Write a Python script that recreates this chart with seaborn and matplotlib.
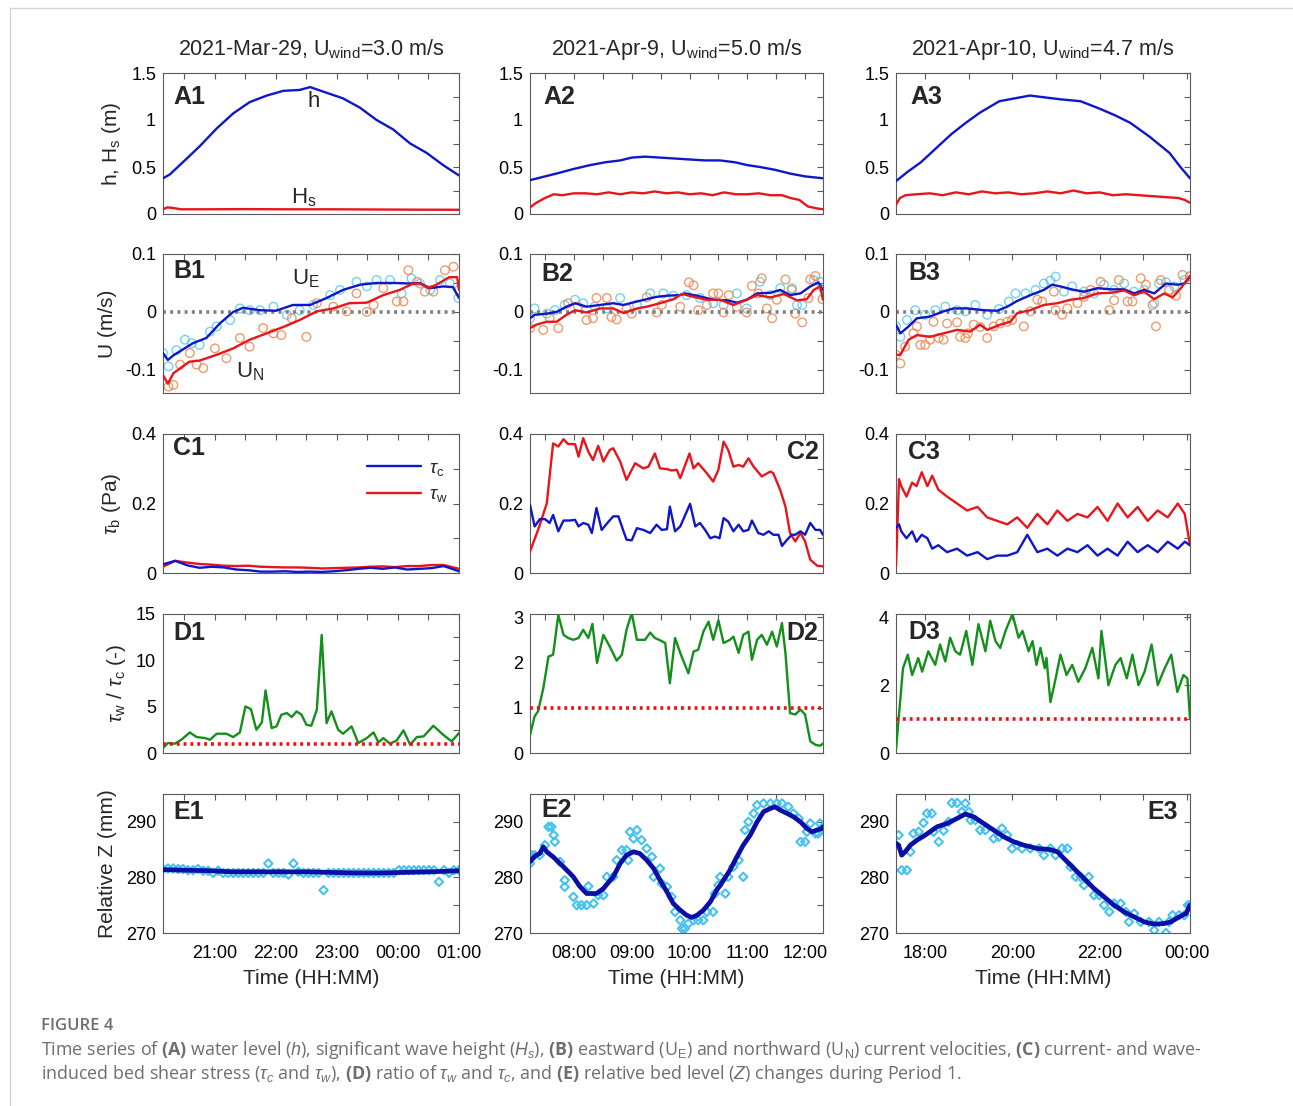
import numpy as np
import pandas as pd
import matplotlib
matplotlib.use("Agg")
import matplotlib.pyplot as plt
import seaborn as sns
from matplotlib.ticker import MultipleLocator, FixedLocator, FuncFormatter
from matplotlib.lines import Line2D

sns.set_theme(style="white")
plt.rcParams['font.family'] = ['Liberation Sans', 'DejaVu Sans']
plt.rcParams['mathtext.fontset'] = 'custom'
plt.rcParams['mathtext.rm'] = 'Liberation Sans'
plt.rcParams['mathtext.it'] = 'Liberation Sans:italic'
plt.rcParams['mathtext.bf'] = 'Open Sans:bold'

# ---------------------------------------------------------------- data
titles = ["2021-Mar-29, U$_{\\mathrm{wind}}$=3.0 m/s",
          "2021-Apr-9, U$_{\\mathrm{wind}}$=5.0 m/s",
          "2021-Apr-10, U$_{\\mathrm{wind}}$=4.7 m/s"]

# ---- A: water level h and wave height Hs
a1_t = [20.15, 20.26, 20.54, 20.75, 21.03, 21.3, 21.57, 21.85, 22.12, 22.39, 22.56,
        22.83, 23.1, 23.38, 23.65, 23.92, 24.2, 24.47, 24.74, 25.0]
a1_h = [0.38, 0.42, 0.59, 0.72, 0.91, 1.07, 1.19, 1.26, 1.31, 1.32, 1.35,
        1.29, 1.23, 1.13, 1.0, 0.9, 0.75, 0.65, 0.52, 0.41]
a1_hs_t = [20.15, 20.22, 20.3, 20.45, 20.8, 21.5, 22.2, 22.9, 23.6, 24.3, 25.0]
a1_hs = [0.05, 0.07, 0.065, 0.05, 0.05, 0.052, 0.05, 0.05, 0.048, 0.046, 0.045]

a2_t = [7.24, 7.5, 7.76, 8.0, 8.28, 8.54, 8.8, 9.0, 9.23, 9.49, 9.75, 10.0, 10.27,
        10.53, 10.79, 11.0, 11.22, 11.48, 11.74, 12.0, 12.31]
a2_h = [0.36, 0.4, 0.44, 0.48, 0.52, 0.55, 0.57, 0.6, 0.61, 0.6, 0.59, 0.58, 0.57,
        0.57, 0.55, 0.52, 0.5, 0.47, 0.43, 0.4, 0.38]
a2_hs_t = [7.24, 7.35, 7.5, 7.65, 7.8, 8.0, 8.2, 8.4, 8.6, 8.8, 9.0, 9.2, 9.4, 9.6, 9.8,
           10.0, 10.2, 10.4, 10.6, 10.8, 11.0, 11.2, 11.4, 11.6, 11.75, 11.9, 12.05, 12.2, 12.31]
a2_hs = [0.07, 0.12, 0.17, 0.21, 0.2, 0.22, 0.22, 0.21, 0.23, 0.21, 0.23, 0.22, 0.24, 0.22, 0.23,
         0.21, 0.22, 0.2, 0.23, 0.21, 0.21, 0.22, 0.2, 0.2, 0.17, 0.15, 0.08, 0.06, 0.05]

a3_t = [17.33, 17.6, 17.9, 18.25, 18.6, 18.93, 19.26, 19.7, 20.05, 20.4, 20.75, 21.1,
        21.56, 22.0, 22.35, 22.7, 23.15, 23.6, 23.85, 24.07]
a3_h = [0.35, 0.45, 0.55, 0.7, 0.85, 0.97, 1.08, 1.2, 1.23, 1.26, 1.24, 1.22,
        1.2, 1.12, 1.05, 0.97, 0.82, 0.65, 0.5, 0.38]
a3_hs_t = [17.33, 17.42, 17.55, 17.8, 18.1, 18.4, 18.7, 19.0, 19.3, 19.6, 19.9, 20.2,
           20.5, 20.8, 21.1, 21.4, 21.7, 22.0, 22.3, 22.6, 22.9, 23.2, 23.5, 23.8, 23.95, 24.07]
a3_hs = [0.1, 0.17, 0.2, 0.21, 0.22, 0.2, 0.23, 0.21, 0.24, 0.22, 0.23, 0.21, 0.22,
         0.24, 0.22, 0.25, 0.22, 0.23, 0.2, 0.21, 0.2, 0.19, 0.18, 0.17, 0.15, 0.12]

# ---- B: current velocities (smoothed lines + raw points)
b1_t = [20.15, 20.23, 20.32, 20.64, 20.86, 21.08, 21.3, 21.46, 21.74, 22.0, 22.28, 22.56,
        22.83, 23.1, 23.38, 23.65, 23.92, 24.2, 24.36, 24.52, 24.74, 24.9, 25.0]
b1_ue = [-0.071, -0.083, -0.075, -0.054, -0.045, -0.02, 0.0, 0.007, 0.003, 0.002, 0.012, 0.012,
         0.024, 0.038, 0.047, 0.05, 0.05, 0.049, 0.05, 0.041, 0.044, 0.043, 0.024]
b1_un_t = [20.15, 20.23, 20.32, 20.58, 20.75, 21.03, 21.3, 21.57, 21.85, 22.12, 22.39, 22.67,
           22.94, 23.2, 23.49, 23.76, 24.03, 24.25, 24.36, 24.5, 24.63, 24.84, 24.97, 25.0]
b1_un = [-0.109, -0.124, -0.106, -0.086, -0.084, -0.074, -0.063, -0.048, -0.037, -0.026, -0.014, 0.001,
         0.006, 0.015, 0.016, 0.029, 0.038, 0.049, 0.049, 0.041, 0.047, 0.06, 0.06, 0.038]
b1_raw_n_t = [20.24, 20.32, 20.43, 20.59, 20.70, 20.81, 21.0, 21.19, 21.41, 21.57, 21.79, 21.96, 22.09,
              22.26, 22.5, 22.67, 22.94, 23.16, 23.32, 23.49, 23.6, 23.76, 23.98, 24.09, 24.17, 24.31,
              24.44, 24.58, 24.77, 24.91, 25.0]
b1_raw_n = [-0.129, -0.126, -0.091, -0.071, -0.091, -0.097, -0.063, -0.08, -0.045, -0.06, -0.028, -0.037,
            -0.04, -0.011, -0.043, 0.015, 0.009, 0.001, 0.032, 0.0, 0.012, 0.041, 0.018, 0.018, 0.072,
            0.052, 0.035, 0.035, 0.072, 0.078, 0.038]
b1_raw_e_t = [20.15, 20.24, 20.37, 20.51, 20.62, 20.75, 20.92, 21.03, 21.25, 21.41, 21.57, 21.74, 21.96,
              22.18, 22.39, 22.61, 22.89, 23.05, 23.32, 23.49, 23.65, 23.87, 24.06, 24.22, 24.36,
              24.53, 24.69, 24.85, 24.99]
b1_raw_e = [-0.071, -0.094, -0.066, -0.048, -0.054, -0.057, -0.034, -0.025, -0.014, 0.006, 0.003, 0.003,
            0.009, -0.005, 0.003, 0.012, 0.029, 0.038, 0.052, 0.044, 0.055, 0.055, 0.032, 0.058, 0.049,
            0.038, 0.055, 0.049, 0.024]

b2_t = [7.24, 7.32, 7.53, 7.70, 7.87, 8.02, 8.22, 8.45, 8.68, 8.86, 9.09, 9.26, 9.43, 9.61, 9.84,
        9.92, 10.13, 10.42, 10.65, 10.82, 10.99, 11.17, 11.40, 11.57, 11.74, 11.92, 12.09, 12.23, 12.31]
b2_ue = [-0.011, -0.005, -0.003, 0.0, 0.009, 0.015, 0.009, 0.012, 0.015, 0.012, 0.018, 0.022, 0.026,
         0.028, 0.029, 0.032, 0.028, 0.021, 0.020, 0.016, 0.021, 0.032, 0.033, 0.038, 0.029, 0.032,
         0.044, 0.051, 0.038]
b2_un_t = [7.24, 7.35, 7.53, 7.70, 7.87, 8.02, 8.22, 8.45, 8.68, 8.86, 9.09, 9.26, 9.49, 9.72, 9.87,
           10.07, 10.30, 10.53, 10.76, 10.99, 11.17, 11.40, 11.63, 11.86, 12.03, 12.15, 12.26, 12.31]
b2_un = [-0.028, -0.022, -0.017, -0.017, -0.005, 0.003, -0.001, 0.006, 0.006, -0.002, 0.006, 0.009,
         0.015, 0.022, 0.031, 0.026, 0.021, 0.021, 0.012, 0.021, 0.029, 0.025, 0.031, 0.020, 0.022,
         0.038, 0.044, 0.021]
b2_raw_n_t = [7.24, 7.47, 7.58, 7.73, 7.9, 8.07, 8.22, 8.33, 8.39, 8.57, 8.65, 8.74, 8.91, 9.0, 9.26,
              9.43, 9.52, 9.84, 9.99, 10.07, 10.15, 10.30, 10.41, 10.5, 10.59, 10.68, 10.82, 10.99,
              11.08, 11.19, 11.25, 11.34, 11.43, 11.51, 11.66, 11.77, 11.83, 11.95, 12.06, 12.09,
              12.18, 12.3]
b2_raw_n = [-0.028, -0.031, -0.011, -0.028, 0.015, 0.009, -0.014, -0.011, 0.024, 0.024, -0.009, -0.013,
            0.006, -0.003, 0.025, -0.001, 0.012, 0.009, 0.051, 0.046, 0.003, 0.012, 0.032, 0.032,
            -0.001, 0.029, 0.009, -0.001, 0.045, 0.032, 0.058, 0.006, -0.011, 0.021, 0.056, 0.038,
            -0.003, -0.018, 0.024, 0.056, 0.062, 0.022]
b2_raw_e_t = [7.24, 7.32, 7.53, 7.67, 7.84, 8.02, 8.16, 8.36, 8.57, 8.8, 9.09, 9.32, 9.55, 9.72, 9.95,
              10.18, 10.41, 10.59, 10.82, 10.99, 11.22, 11.4, 11.57, 11.77, 11.86, 11.95, 12.15, 12.26,
              12.31]
b2_raw_e = [-0.011, 0.006, -0.003, 0.003, 0.012, 0.021, 0.015, 0.009, 0.006, 0.024, 0.012, 0.032, 0.032,
            0.028, 0.029, 0.024, 0.015, 0.012, 0.032, 0.006, 0.052, 0.029, 0.041, 0.041, 0.012, 0.012,
            0.055, 0.052, 0.041]

b3_t = [17.33, 17.43, 17.62, 17.81, 18.11, 18.42, 18.65, 18.96, 19.34, 19.65, 19.88, 20.11, 20.41,
        20.72, 20.91, 21.1, 21.41, 21.64, 21.95, 22.25, 22.56, 22.79, 23.02, 23.25, 23.52, 23.79,
        23.94, 24.07]
b3_ue = [-0.022, -0.037, -0.025, -0.011, -0.008, 0.001, 0.006, 0.006, 0.003, 0.002, 0.009, 0.019,
         0.029, 0.038, 0.047, 0.044, 0.038, 0.035, 0.041, 0.039, 0.039, 0.032, 0.038, 0.032, 0.049,
         0.047, 0.049, 0.061]
b3_un_t = [17.33, 17.43, 17.62, 17.81, 18.11, 18.42, 18.73, 19.03, 19.26, 19.42, 19.72, 19.95, 20.11,
           20.41, 20.72, 21.03, 21.33, 21.64, 21.95, 22.25, 22.56, 22.79, 23.02, 23.25, 23.48, 23.67,
           23.86, 24.07]
b3_un = [-0.074, -0.074, -0.048, -0.040, -0.043, -0.037, -0.031, -0.034, -0.022, -0.031, -0.022, -0.017,
         -0.002, 0.003, 0.012, 0.015, 0.021, 0.024, 0.032, 0.033, 0.037, 0.029, 0.035, 0.022, 0.032,
         0.025, 0.041, 0.062]
b3_raw_n_t = [17.33, 17.43, 17.54, 17.73, 17.81, 17.89, 18.0, 18.11, 18.19, 18.31, 18.42, 18.5, 18.73,
              18.8, 18.92, 18.98, 19.11, 19.26, 19.42, 19.57, 19.72, 19.88, 19.99, 20.26, 20.41, 20.57,
              20.68, 20.95, 20.99, 21.14, 21.26, 21.49, 21.64, 21.79, 22.02, 22.22, 22.33, 22.44, 22.64,
              22.75, 22.94, 23.06, 23.21, 23.29, 23.4, 23.59, 23.75, 23.9, 24.07]
b3_raw_n = [-0.074, -0.089, -0.06, -0.037, -0.025, -0.057, -0.057, -0.048, -0.017, -0.045, -0.048, -0.02,
            -0.018, -0.043, -0.045, -0.037, -0.022, -0.026, -0.045, -0.025, -0.02, -0.017, -0.014,
            -0.025, 0.001, 0.021, 0.018, 0.035, 0.003, -0.005, 0.006, 0.015, 0.026, 0.038, 0.052,
            0.003, 0.02, 0.055, 0.018, 0.018, 0.058, 0.047, 0.012, -0.025, 0.055, 0.038, 0.028, 0.064,
            0.061]
b3_raw_e_t = [17.33, 17.43, 17.58, 17.77, 18.0, 18.23, 18.46, 18.73, 18.92, 19.15, 19.42, 19.69, 19.92,
              20.07, 20.3, 20.53, 20.72, 20.87, 20.99, 21.18, 21.37, 21.64, 21.87, 22.1, 22.33, 22.56,
              22.79, 23.02, 23.25, 23.36, 23.52, 23.71, 23.94, 24.07]
b3_raw_e = [-0.025, -0.043, -0.014, 0.003, -0.005, 0.003, 0.009, 0.003, 0.001, 0.012, -0.005, 0.005,
            0.018, 0.032, 0.032, 0.038, 0.049, 0.054, 0.061, 0.035, 0.044, 0.035, 0.032, 0.047, 0.038,
            0.049, 0.035, 0.038, 0.015, 0.049, 0.051, 0.044, 0.055, 0.062]

# ---- C: bed shear stress
c1_t = [20.15, 20.35, 20.55, 20.75, 20.95, 21.15, 21.35, 21.55, 21.75, 21.95, 22.15, 22.35, 22.55,
        22.75, 22.95, 23.15, 23.35, 23.55, 23.75, 23.95, 24.15, 24.35, 24.55, 24.75, 25.0]
c1_tc = [0.025, 0.035, 0.022, 0.015, 0.018, 0.016, 0.010, 0.008, 0.004, 0.004, 0.005, 0.003, 0.004,
         0.003, 0.005, 0.008, 0.012, 0.015, 0.012, 0.016, 0.010, 0.012, 0.014, 0.020, 0.005]
c1_tw = [0.018, 0.035, 0.030, 0.026, 0.024, 0.021, 0.020, 0.021, 0.018, 0.017, 0.016, 0.016, 0.015,
         0.013, 0.014, 0.015, 0.016, 0.018, 0.019, 0.017, 0.020, 0.020, 0.023, 0.023, 0.012]

c2_tw_t = [7.24, 7.38, 7.53, 7.64, 7.73, 7.82, 7.90, 8.02, 8.08, 8.16, 8.25, 8.33, 8.42, 8.51, 8.62,
           8.68, 8.80, 8.91, 9.06, 9.20, 9.29, 9.40, 9.49, 9.61, 9.69, 9.78, 9.84, 10.0, 10.07, 10.15,
           10.30, 10.41, 10.50, 10.59, 10.67, 10.76, 10.85, 10.93, 11.02, 11.11, 11.25, 11.40, 11.45,
           11.57, 11.66, 11.74, 11.83, 11.92, 12.00, 12.09, 12.21, 12.31]
c2_tw = [0.062, 0.124, 0.2, 0.373, 0.364, 0.385, 0.371, 0.371, 0.335, 0.388, 0.349, 0.325, 0.366,
         0.321, 0.354, 0.359, 0.321, 0.268, 0.316, 0.301, 0.306, 0.344, 0.301, 0.299, 0.295, 0.297,
         0.273, 0.344, 0.301, 0.316, 0.287, 0.263, 0.297, 0.378, 0.354, 0.306, 0.311, 0.306, 0.330,
         0.306, 0.278, 0.292, 0.287, 0.239, 0.191, 0.115, 0.091, 0.115, 0.091, 0.038, 0.021, 0.019]
c2_tc_t = [7.24, 7.32, 7.41, 7.50, 7.58, 7.64, 7.73, 7.82, 7.93, 8.02, 8.08, 8.16, 8.25, 8.31, 8.39,
           8.48, 8.60, 8.68, 8.77, 8.85, 8.91, 9.0, 9.09, 9.20, 9.32, 9.43, 9.52, 9.61, 9.66, 9.75,
           9.84, 10.01, 10.10, 10.18, 10.27, 10.36, 10.44, 10.52, 10.59, 10.67, 10.76, 10.85, 10.93,
           11.02, 11.08, 11.19, 11.28, 11.37, 11.45, 11.54, 11.60, 11.69, 11.77, 11.83, 11.92, 12.0,
           12.09, 12.18, 12.26, 12.31]
c2_tc = [0.196, 0.134, 0.155, 0.155, 0.144, 0.167, 0.120, 0.151, 0.151, 0.153, 0.134, 0.144, 0.139,
         0.115, 0.187, 0.124, 0.148, 0.163, 0.163, 0.124, 0.096, 0.094, 0.129, 0.124, 0.115, 0.139,
         0.124, 0.126, 0.191, 0.120, 0.134, 0.199, 0.134, 0.144, 0.124, 0.100, 0.105, 0.100, 0.158,
         0.148, 0.120, 0.139, 0.120, 0.124, 0.151, 0.115, 0.110, 0.120, 0.110, 0.110, 0.078, 0.096,
         0.110, 0.110, 0.120, 0.110, 0.144, 0.124, 0.124, 0.110]

c3_t = [17.33, 17.4, 17.45, 17.57, 17.7, 17.8, 17.92, 18.05, 18.16, 18.3, 18.5, 18.73, 18.96, 19.2,
        19.42, 19.65, 19.88, 20.11, 20.34, 20.57, 20.8, 21.03, 21.26, 21.49, 21.72, 21.95, 22.18,
        22.41, 22.64, 22.87, 23.1, 23.33, 23.56, 23.79, 23.95, 24.07]
c3_tw = [0.02, 0.27, 0.25, 0.22, 0.26, 0.25, 0.29, 0.25, 0.28, 0.24, 0.22, 0.2, 0.18, 0.19, 0.16,
         0.15, 0.14, 0.16, 0.13, 0.17, 0.14, 0.18, 0.15, 0.17, 0.16, 0.19, 0.15, 0.2, 0.16, 0.19,
         0.15, 0.18, 0.16, 0.2, 0.17, 0.08]
c3_tc = [0.13, 0.14, 0.12, 0.1, 0.12, 0.09, 0.11, 0.1, 0.07, 0.08, 0.06, 0.07, 0.05, 0.06, 0.04,
         0.05, 0.05, 0.06, 0.11, 0.06, 0.07, 0.05, 0.07, 0.06, 0.08, 0.05, 0.07, 0.05, 0.09, 0.06,
         0.08, 0.06, 0.09, 0.07, 0.09, 0.08]

# ---- D: ratio tau_w / tau_c
d1_t = [20.15, 20.23, 20.34, 20.45, 20.59, 20.70, 20.84, 20.92, 21.03, 21.19, 21.30, 21.41, 21.50,
        21.59, 21.68, 21.77, 21.83, 21.93, 22.01, 22.09, 22.18, 22.26, 22.34, 22.42, 22.50, 22.58,
        22.67, 22.75, 22.83, 22.91, 23.02, 23.10, 23.24, 23.35, 23.49, 23.60, 23.68, 23.76, 23.87,
        23.98, 24.09, 24.20, 24.31, 24.42, 24.58, 24.74, 24.88, 25.0]
d1_r = [0.54, 1.08, 1.0, 1.43, 2.22, 1.72, 1.61, 1.43, 2.08, 2.08, 1.72, 2.22, 5.02, 4.74, 2.51,
        3.30, 6.75, 2.69, 2.87, 4.13, 4.31, 3.88, 4.49, 4.13, 3.05, 2.94, 4.66, 12.74, 3.23, 4.49,
        2.51, 2.08, 2.87, 1.08, 1.61, 2.22, 1.15, 1.61, 1.0, 1.36, 2.44, 0.9, 1.72, 1.79, 2.94,
        1.97, 1.26, 2.15]

d2_t = [7.24, 7.32, 7.38, 7.47, 7.56, 7.64, 7.73, 7.82, 7.90, 7.99, 8.08, 8.16, 8.25, 8.32, 8.40,
        8.51, 8.62, 8.74, 8.83, 8.91, 9.0, 9.09, 9.23, 9.32, 9.40, 9.49, 9.58, 9.66, 9.75, 9.84,
        9.98, 10.07, 10.15, 10.24, 10.33, 10.41, 10.50, 10.59, 10.70, 10.76, 10.85, 10.93, 11.02,
        11.08, 11.17, 11.25, 11.34, 11.43, 11.51, 11.60, 11.66, 11.74, 11.83, 11.92, 12.0, 12.09,
        12.18, 12.26, 12.31]
d2_r = [0.40, 0.81, 0.92, 1.43, 2.13, 2.17, 3.05, 2.61, 2.54, 2.50, 2.54, 2.72, 2.54, 2.85, 1.99,
        2.61, 2.35, 2.04, 2.17, 2.72, 3.09, 2.50, 2.50, 2.66, 2.54, 2.49, 2.43, 1.54, 2.54, 2.21,
        1.76, 2.24, 2.28, 2.68, 2.90, 2.50, 2.93, 2.43, 2.50, 2.57, 2.21, 2.61, 2.68, 2.06, 2.50,
        2.61, 2.39, 2.68, 2.35, 2.87, 2.21, 0.88, 0.85, 0.96, 0.85, 0.26, 0.18, 0.16, 0.21]

d3_t = [17.33, 17.49, 17.6, 17.7, 17.84, 17.93, 18.07, 18.23, 18.34, 18.46, 18.57, 18.69, 18.8,
        18.94, 19.08, 19.22, 19.38, 19.49, 19.61, 19.72, 19.84, 20.0, 20.14, 20.23, 20.37, 20.46,
        20.55, 20.64, 20.74, 20.78, 20.87, 20.99, 21.1, 21.24, 21.37, 21.51, 21.67, 21.83, 21.97,
        22.04, 22.2, 22.36, 22.48, 22.62, 22.75, 22.89, 23.03, 23.19, 23.33, 23.49, 23.64, 23.78,
        23.92, 24.01, 24.07]
d3_r = [0.1, 2.5, 2.9, 2.3, 2.8, 2.4, 3.0, 2.6, 3.2, 2.7, 3.4, 3.0, 2.9, 3.6, 2.6, 3.8, 3.0, 3.9,
        3.3, 3.1, 3.6, 4.1, 3.4, 3.6, 3.0, 3.3, 2.6, 3.1, 2.5, 2.8, 1.5, 2.2, 2.9, 2.3, 2.6, 2.1,
        2.5, 3.1, 2.2, 3.6, 2.0, 2.6, 2.8, 2.2, 2.9, 2.0, 2.4, 3.2, 2.0, 2.5, 2.9, 1.8, 2.3, 2.2, 1.0]

# ---- E: relative bed level Z (mm)
e1_raw_t = list(np.round(np.linspace(20.15, 25.0, 60), 3))
e1_raw = [281.5, 281.6, 281.6, 281.5, 281.5, 281.3, 281.3, 281.5, 281.2, 281.2,
          280.8, 281.2, 280.8, 280.8, 280.8, 280.8, 280.8, 280.8, 280.8, 280.8,
          280.8, 282.5, 280.8, 280.8, 280.8, 280.5, 282.5, 281.0, 280.8, 280.8,
          280.8, 280.8, 277.7, 280.8, 280.8, 280.8, 280.8, 280.8, 280.8, 280.8,
          280.8, 280.8, 280.8, 280.8, 280.8, 280.8, 280.8, 281.3, 281.3, 281.3,
          281.3, 281.3, 281.3, 281.3, 281.3, 279.2, 281.3, 280.8, 281.3, 281.3]
e1_t = [20.15, 20.5, 20.9, 21.3, 21.7, 22.1, 22.5, 22.9, 23.3, 23.7, 24.1, 24.5, 24.8, 25.0]
e1_z = [281.4, 281.3, 281.2, 281.0, 281.0, 281.0, 281.0, 280.9, 280.8, 280.8, 280.9, 281.0, 281.1, 281.2]

e2_t = [7.24, 7.32, 7.41, 7.47, 7.53, 7.64, 7.82, 7.99, 8.10, 8.22, 8.39, 8.51, 8.68, 8.80, 8.91,
        9.03, 9.14, 9.26, 9.38, 9.49, 9.61, 9.72, 9.84, 9.95, 10.04, 10.13, 10.24, 10.36, 10.47,
        10.59, 10.70, 10.82, 10.93, 11.05, 11.17, 11.28, 11.40, 11.48, 11.57, 11.69, 11.80, 11.92,
        12.03, 12.12, 12.20, 12.29, 12.31]
e2_z = [282.8, 283.8, 284.3, 285.5, 284.6, 283.7, 281.9, 280.1, 278.4, 277.1, 277.1, 278.0, 280.1,
        282.5, 284.0, 284.6, 284.3, 283.1, 281.6, 279.5, 277.4, 275.3, 274.1, 273.2, 272.8, 273.2,
        274.1, 275.6, 277.7, 279.5, 281.3, 283.7, 285.8, 287.6, 290.0, 291.8, 292.4, 292.7, 292.1,
        291.5, 290.9, 290.0, 288.8, 288.2, 288.5, 288.8, 289.1]
e2_raw_t = [7.24, 7.27, 7.32, 7.41, 7.50, 7.56, 7.61, 7.65, 7.67, 7.76, 7.84, 7.84, 7.99, 8.05, 8.13,
            8.22, 8.25, 8.34, 8.42, 8.51, 8.57, 8.68, 8.74, 8.83, 8.91, 8.94, 8.97, 9.03, 9.09, 9.17,
            9.26, 9.35, 9.38, 9.49, 9.52, 9.61, 9.69, 9.75, 9.84, 9.87, 9.92, 9.98, 10.07, 10.15,
            10.24, 10.30, 10.41, 10.44, 10.50, 10.53, 10.62, 10.67, 10.76, 10.85, 10.93, 10.96,
            11.02, 11.11, 11.17, 11.28, 11.40, 11.51, 11.60, 11.71, 11.80, 11.89, 11.92, 12.0,
            12.03, 12.09, 12.18, 12.23, 12.26, 12.31]
e2_raw = [282.5, 284.0, 284.0, 284.0, 285.8, 289.1, 289.1, 287.6, 286.4, 282.8, 279.5, 278.3, 276.5,
          275.0, 275.0, 275.0, 278.4, 275.3, 276.8, 276.8, 280.1, 280.1, 283.1, 284.9, 284.9, 283.1,
          288.2, 287.0, 288.5, 286.7, 285.2, 283.7, 280.1, 281.6, 278.9, 278.3, 276.5, 273.8, 272.3,
          270.8, 270.8, 271.7, 272.3, 272.3, 272.3, 273.8, 273.8, 277.1, 278.6, 280.1, 277.1, 280.1,
          281.9, 283.1, 280.1, 288.5, 290.0, 291.5, 293.0, 293.3, 293.3, 293.3, 293.3, 292.7, 291.5,
          290.6, 286.4, 286.4, 288.2, 289.7, 287.9, 287.9, 289.7, 289.1]

e3_t = [17.33, 17.39, 17.46, 17.54, 17.66, 17.81, 18.0, 18.27, 18.50, 18.73, 18.92, 19.11, 19.34,
        19.57, 19.80, 20.03, 20.26, 20.57, 20.87, 21.03, 21.18, 21.41, 21.64, 21.87, 22.10, 22.33,
        22.56, 22.79, 23.02, 23.25, 23.48, 23.63, 23.82, 23.98, 24.07]
e3_z = [286.1, 285.8, 284.0, 284.6, 285.8, 286.7, 287.6, 289.1, 289.7, 290.6, 291.4, 290.9, 289.7,
        288.5, 287.3, 286.4, 285.8, 285.2, 285.0, 284.6, 283.4, 281.6, 279.8, 278.0, 276.5, 275.0,
        273.8, 272.9, 272.0, 271.6, 271.7, 272.0, 272.9, 273.5, 275.0]
e3_raw_t = [17.33, 17.39, 17.46, 17.58, 17.66, 17.73, 17.85, 17.96, 18.04, 18.15, 18.19, 18.31, 18.42,
            18.54, 18.61, 18.73, 18.84, 18.92, 19.0, 19.04, 19.15, 19.26, 19.38, 19.57, 19.69, 19.76,
            19.88, 19.99, 20.11, 20.22, 20.41, 20.61, 20.72, 20.87, 20.99, 21.14, 21.26, 21.33, 21.45,
            21.56, 21.64, 21.75, 21.87, 21.99, 22.10, 22.22, 22.33, 22.48, 22.60, 22.67, 22.79, 22.94,
            23.13, 23.25, 23.36, 23.52, 23.59, 23.67, 23.82, 23.94, 24.02, 24.07]
e3_raw = [285.8, 287.6, 281.3, 281.3, 284.6, 287.9, 288.2, 289.8, 291.5, 291.5, 288.2, 286.4, 288.4,
          290.0, 293.4, 293.4, 291.8, 293.3, 291.8, 290.3, 290.3, 288.5, 288.5, 287.0, 287.3, 288.8,
          287.6, 285.2, 285.8, 285.2, 285.2, 285.2, 284.0, 285.2, 284.0, 285.2, 285.2, 281.9, 280.1,
          280.1, 278.6, 280.1, 276.8, 276.8, 275.0, 273.8, 275.3, 275.3, 273.8, 272.0, 273.5, 272.0,
          272.0, 270.5, 272.0, 270.0, 272.0, 273.2, 273.2, 273.2, 275.0, 275.0]

# ---------------------------------------------------------------- style
BLUE = "#0f17c8"
RED = "#e8151b"
GREEN = "#138f1c"
CYAN = "#45c3ee"
ORANGE = "#ee8a55"
NAVY = "#0b0fa6"
GRAY = "#7f7f7f"
SPINE = "#5a5a5a"

W, H = 1293, 1106
fig = plt.figure(figsize=(W / 100, H / 100), dpi=100)
fig.patch.set_facecolor("white")

col_l = [163, 530, 896]
col_r = [459, 823, 1190]
row_t = [73, 254, 434, 614, 794]
row_b = [214, 393, 573, 753, 933]
xlims = [(20.15, 25.0), (7.24, 12.31), (17.33, 24.07)]
xmaj = [[21, 22, 23, 24, 25], [8, 9, 10, 11, 12], [18, 20, 22, 24]]
xmin = [0.5, 0.5, 1.0]

axes = [[None] * 3 for _ in range(5)]
for r in range(5):
    for c in range(3):
        axes[r][c] = fig.add_axes([col_l[c] / W, 1 - row_b[r] / H,
                                   (col_r[c] - col_l[c]) / W, (row_b[r] - row_t[r]) / H])

hhmm = FuncFormatter(lambda x, p: f"{int(round(x)) % 24:02d}:00")
gfmt = FuncFormatter(lambda x, p: f"{x:g}")


def style(ax, c, r):
    ax.set_facecolor("white")
    ax.set_xlim(*xlims[c])
    ax.xaxis.set_major_locator(FixedLocator(xmaj[c]))
    ax.xaxis.set_minor_locator(MultipleLocator(xmin[c]))
    ax.xaxis.set_major_formatter(hhmm)
    ax.yaxis.set_major_formatter(gfmt)
    ax.tick_params(which="both", direction="in", top=True, right=True, length=4.3,
                   width=0.8, color=SPINE, labelcolor="black", labelsize=13, pad=5)
    ax.tick_params(axis="x", which="both", pad=9)
    if r < 4:
        ax.tick_params(labelbottom=False)
    for s in ax.spines.values():
        s.set_color(SPINE)
        s.set_linewidth(0.8)
        s.set_visible(True)
    ax.set_xlabel("")
    ax.set_ylabel("")
    ax.grid(False)


def line(ax, t, v, color, lw=1.7, z=3):
    sns.lineplot(x=t, y=v, ax=ax, color=color, linewidth=lw, sort=False,
                 estimator=None, zorder=z, legend=False)


def pts(ax, t, v, color, marker="o", s=38, lw=1.0, z=2, alpha=1.0):
    sns.scatterplot(x=t, y=v, ax=ax, marker=marker, s=s, color=color, alpha=alpha,
                    facecolor="none", edgecolor=color, linewidth=lw, zorder=z, legend=False)


# ---- row A
A = [(a1_t, a1_h, a1_hs_t, a1_hs), (a2_t, a2_h, a2_hs_t, a2_hs), (a3_t, a3_h, a3_hs_t, a3_hs)]
for c, (t, h, ts, hs) in enumerate(A):
    ax = axes[0][c]
    line(ax, t, h, BLUE)
    line(ax, ts, hs, RED)
    ax.set_ylim(0, 1.5)
    ax.yaxis.set_major_locator(FixedLocator([0, 0.5, 1, 1.5]))
    ax.yaxis.set_minor_locator(MultipleLocator(0.25))
axes[0][0].text(22.62, 1.2, "h", fontsize=16, ha="center", va="center")
axes[0][0].text(22.45, 0.17, "H$_{\\mathrm{s}}$", fontsize=16, ha="center", va="center")

# ---- row B
B = [(b1_t, b1_ue, b1_un_t, b1_un, b1_raw_e_t, b1_raw_e, b1_raw_n_t, b1_raw_n),
     (b2_t, b2_ue, b2_un_t, b2_un, b2_raw_e_t, b2_raw_e, b2_raw_n_t, b2_raw_n),
     (b3_t, b3_ue, b3_un_t, b3_un, b3_raw_e_t, b3_raw_e, b3_raw_n_t, b3_raw_n)]
for c, (te, ue, tn, un, tre, re_, trn, rn) in enumerate(B):
    ax = axes[1][c]
    pts(ax, tre, re_, CYAN, z=2, alpha=0.75)
    pts(ax, trn, rn, ORANGE, z=2, alpha=0.85)
    ax.axhline(0, color=GRAY, lw=2.6, ls=(0, (0.8, 1.2)), zorder=2.5)
    line(ax, te, ue, BLUE, z=4)
    line(ax, tn, un, RED, z=4)
    ax.set_ylim(-0.14, 0.1)
    ax.yaxis.set_major_locator(FixedLocator([-0.1, 0, 0.1]))
    ax.yaxis.set_minor_locator(MultipleLocator(0.05))
axes[1][0].text(22.5, 0.058, "U$_{\\mathrm{E}}$", fontsize=16, ha="center", va="center")
axes[1][0].text(21.57, -0.103, "U$_{\\mathrm{N}}$", fontsize=16, ha="center", va="center")

# ---- row C
C = [(c1_t, c1_tc, c1_t, c1_tw), (c2_tc_t, c2_tc, c2_tw_t, c2_tw), (c3_t, c3_tc, c3_t, c3_tw)]
for c, (tc_t, tc, tw_t, tw) in enumerate(C):
    ax = axes[2][c]
    line(ax, tw_t, tw, RED)
    line(ax, tc_t, tc, BLUE)
    ax.set_ylim(0, 0.4)
    ax.yaxis.set_major_locator(FixedLocator([0, 0.2, 0.4]))
    ax.yaxis.set_minor_locator(MultipleLocator(0.1))
handles = [Line2D([], [], color=BLUE, lw=1.7), Line2D([], [], color=RED, lw=1.7)]
axes[2][0].legend(handles, ["$\\tau_{\\mathrm{c}}$", "$\\tau_{\\mathrm{w}}$"], loc="upper right",
                  bbox_to_anchor=(0.985, 0.87), frameon=False, fontsize=13.5, handlelength=2.9,
                  handletextpad=0.4, labelspacing=0.45, borderaxespad=0)

# ---- row D
D = [(d1_t, d1_r, 15, [0, 5, 10, 15], 2.5), (d2_t, d2_r, 3.07, [0, 1, 2, 3], 0.5),
     (d3_t, d3_r, 4.1, [0, 2, 4], 1.0)]
for c, (t, rr, top, maj, mn) in enumerate(D):
    ax = axes[3][c]
    line(ax, t, rr, GREEN)
    ax.axhline(1, color="#ee1111", lw=2.6, ls=(0, (0.8, 1.1)), zorder=5)
    ax.set_ylim(0, top)
    ax.yaxis.set_major_locator(FixedLocator(maj))
    ax.yaxis.set_minor_locator(MultipleLocator(mn))

# ---- row E
E = [(e1_raw_t, e1_raw, e1_t, e1_z), (e2_raw_t, e2_raw, e2_t, e2_z), (e3_raw_t, e3_raw, e3_t, e3_z)]
for c, (rt, rz, t, z) in enumerate(E):
    ax = axes[4][c]
    pts(ax, rt, rz, CYAN, marker="D", s=18, lw=1.5, z=2)
    line(ax, t, z, NAVY, lw=3.4, z=4)
    ax.set_ylim(270, 295)
    ax.yaxis.set_major_locator(FixedLocator([270, 280, 290]))
    ax.yaxis.set_minor_locator(MultipleLocator(5))

for r in range(5):
    for c in range(3):
        style(axes[r][c], c, r)

# panel letters: (x, y, ha)
lab_pos = {
    (0, 0): (0.034, 0.83, "left"), (0, 1): (0.044, 0.83, "left"), (0, 2): (0.048, 0.83, "left"),
    (1, 0): (0.034, 0.88, "left"), (1, 1): (0.04, 0.855, "left"), (1, 2): (0.041, 0.86, "left"),
    (2, 0): (0.034, 0.9, "left"), (2, 1): (0.985, 0.87, "right"), (2, 2): (0.041, 0.87, "left"),
    (3, 0): (0.034, 0.86, "left"), (3, 1): (0.985, 0.86, "right"), (3, 2): (0.041, 0.87, "left"),
    (4, 0): (0.034, 0.87, "left"), (4, 1): (0.04, 0.885, "left"), (4, 2): (0.96, 0.87, "right"),
}
for (r, c), (x, y, ha) in lab_pos.items():
    axes[r][c].text(x, y, f"{'ABCDE'[r]}{c + 1}", transform=axes[r][c].transAxes,
                    fontsize=18, fontweight="bold", ha=ha, va="center", zorder=10)

for c in range(3):
    axes[0][c].set_title(titles[c], fontsize=15.5, pad=13)
    axes[4][c].set_xlabel("Time (HH:MM)", fontsize=15, labelpad=5)

ylabels = ["h, H$_{\\mathrm{s}}$ (m)", "U (m/s)", "$\\tau_{\\mathrm{b}}$ (Pa)",
           "$\\tau_{\\mathrm{w}}$ / $\\tau_{\\mathrm{c}}$ (-)", "Relative Z (mm)"]
for r in range(5):
    axes[r][0].set_ylabel(ylabels[r], fontsize=15, labelpad=6)

# ---- frame and caption
fig.add_artist(Line2D([10 / W, 1.0], [1 - 8 / H, 1 - 8 / H], color="#d5d5d5", lw=1.0))
fig.add_artist(Line2D([10 / W, 10 / W], [1 - 8 / H, 0.0], color="#d5d5d5", lw=1.0))
CAP = "#6e6e6e"
fig.text(41 / W, 1 - 1026 / H, "FIGURE 4", fontsize=12, color=CAP, family="Open Sans",
         fontweight="semibold", va="center")
cap1 = ("Time series of $\\mathbf{(A)}$ water level ($h$), significant wave height ($H_s$), "
        "$\\mathbf{(B)}$ eastward (U$_\\mathrm{E}$) and northward (U$_\\mathrm{N}$) current velocities, "
        "$\\mathbf{(C)}$ current- and wave-")
cap2 = ("induced bed shear stress ($\\tau_c$ and $\\tau_w$), $\\mathbf{(D)}$ ratio of $\\tau_w$ and "
        "$\\tau_c$, and $\\mathbf{(E)}$ relative bed level ($Z$) changes during Period 1.")
fig.text(41 / W, 1 - 1050 / H, cap1, fontsize=12.9, color=CAP, family="Open Sans", va="center")
fig.text(41 / W, 1 - 1074 / H, cap2, fontsize=12.9, color=CAP, family="Open Sans", va="center")

fig.savefig("out.png", dpi=100, facecolor="white")
